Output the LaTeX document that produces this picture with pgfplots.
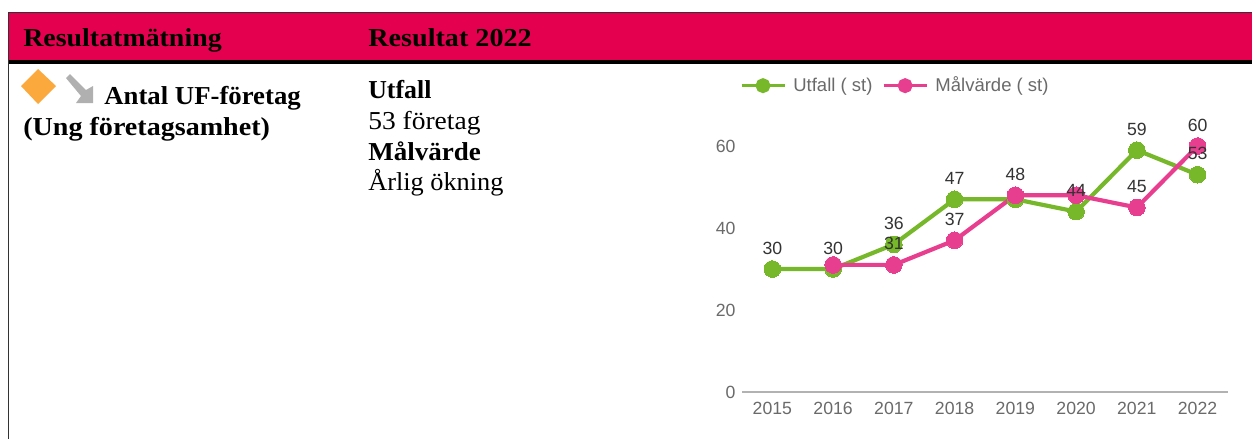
\documentclass[border=0pt]{standalone}
\usepackage{pgfplots}
\usepackage{graphicx}
\pgfplotsset{compat=1.18}
\usepackage{fontspec}
\setmainfont{Liberation Serif}
\newfontfamily\chartfont{Liberation Sans}
\definecolor{hdr}{HTML}{E5004F}
\definecolor{gr}{HTML}{76B82A}
\definecolor{pk}{HTML}{E83E8F}
\definecolor{tick}{HTML}{6A6A6A}
\definecolor{lab}{HTML}{333333}
\definecolor{dia}{HTML}{FBA93C}
\definecolor{arr}{HTML}{B0B0B0}
\newcommand{\tx}[5]{\node[anchor=base west,inner sep=0pt,font=\fontsize{15.5}{17}\selectfont#4] at (#1,#2) {\scalebox{#3}[1]{#5}};}
\begin{document}
\begin{tikzpicture}
\begin{scope}[x=0.6pt,y=-0.6pt]
\path[use as bounding box] (0,0) rectangle (1252,439);
\fill[white] (0,0) rectangle (1252,439);
\fill[hdr] (9,13) rectangle (1252,60);
\fill[black] (9,60) rectangle (1252,64);
\draw[black!80,line width=0.6pt] (1252,12.5) -- (8.5,12.5) -- (8.5,439);
\tx{23}{46}{1.08}{\bfseries}{Resultatmätning}
\tx{368}{46}{1.09}{\bfseries}{Resultat 2022}
\fill[dia] (38,69) -- (56,86) -- (38,104) -- (21,86) -- cycle;
\fill[arr] (66,78) -- (70,74) -- (86,90) -- (93,86) -- (93,103) -- (76,103) -- (81,96) -- cycle;
\tx{104}{104}{1.036}{\bfseries}{Antal UF-företag}
\tx{23}{135}{1.087}{\bfseries}{(Ung företagsamhet)}
\tx{368}{98}{1.0}{\bfseries}{Utfall}
\tx{368}{129}{1.064}{}{53 företag}
\tx{368}{160}{1.046}{\bfseries}{Målvärde}
\tx{368}{190}{1.018}{}{Årlig ökning}
\end{scope}
\begin{axis}[
  at={(445.2pt,-235.2pt)}, anchor=south west,
  scale only axis, width=291.6pt, height=172.2pt,
  xmin=2014.5, xmax=2022.5, ymin=0, ymax=70,
  clip=false,
  axis line style={draw=none},
  axis x line*=bottom, axis y line*=left,
  xtick={2015,...,2022}, ytick={0,20,40,60},
  xticklabel style={/pgf/number format/1000 sep=},
  /pgf/number format/assume math mode=true,
  /pgf/number format/fixed,
  major tick length=0pt,
  tick style={draw=none},
  ticklabel style={font=\chartfont\fontsize{10.6}{12}\selectfont, text=tick},
  xticklabel style={yshift=-2.5pt},
  yticklabel style={xshift=-0.4pt},
  legend columns=2,
  legend style={draw=none, fill=none, at={(-1.2pt,183.8pt)}, anchor=west, font=\chartfont\fontsize{11.1}{12}\selectfont, text=tick, inner sep=0pt, outer sep=0pt, /tikz/every even column/.style={column sep=3.8pt}},
  legend cell align=left,
]
\draw[color=gray!60,line width=0.7pt] (axis cs:2014.5,0) -- (axis cs:2022.5,0);
\addplot[gr, line width=2.5pt, mark=*, mark size=5pt, mark options={fill=gr,draw=gr,line width=0pt},
  legend image code/.code={\draw[gr,line width=1.8pt] (0pt,0pt) -- (25.8pt,0pt); \fill[gr] (12.9pt,0pt) circle (3.2pt);}]
  coordinates {(2015,30)(2016,30)(2017,36)(2018,47)(2019,47)(2020,44)(2021,59)(2022,53)};
\addlegendentry{\hspace{2.4pt}Utfall ( st)}
\addplot[pk, line width=2.5pt, mark=*, mark size=5pt, mark options={fill=pk,draw=pk,line width=0pt},
  legend image code/.code={\draw[pk,line width=1.8pt] (0pt,0pt) -- (25.8pt,0pt); \fill[pk] (12.9pt,0pt) circle (3.2pt);}]
  coordinates {(2016,31)(2017,31)(2018,37)(2019,48)(2020,48)(2021,45)(2022,60)};
\addlegendentry{\hspace{2.4pt}Målvärde ( st)}
\addplot[forget plot, draw=none, mark=none, point meta=y,
  nodes near coords, nodes near coords style={anchor=center, yshift=12.6pt, font=\chartfont\fontsize{10.6}{12}\selectfont, text=lab, /pgf/number format/precision=0}]
  coordinates {(2015,30)(2016,30)(2017,36)(2018,47)(2020,44)(2021,59)(2022,53)};
\addplot[forget plot, draw=none, mark=none, point meta=y,
  nodes near coords, nodes near coords style={anchor=center, yshift=12.6pt, font=\chartfont\fontsize{10.6}{12}\selectfont, text=lab, /pgf/number format/precision=0}]
  coordinates {(2017,31)(2018,37)(2019,48)(2021,45)(2022,60)};
\end{axis}
\end{tikzpicture}
\end{document}
